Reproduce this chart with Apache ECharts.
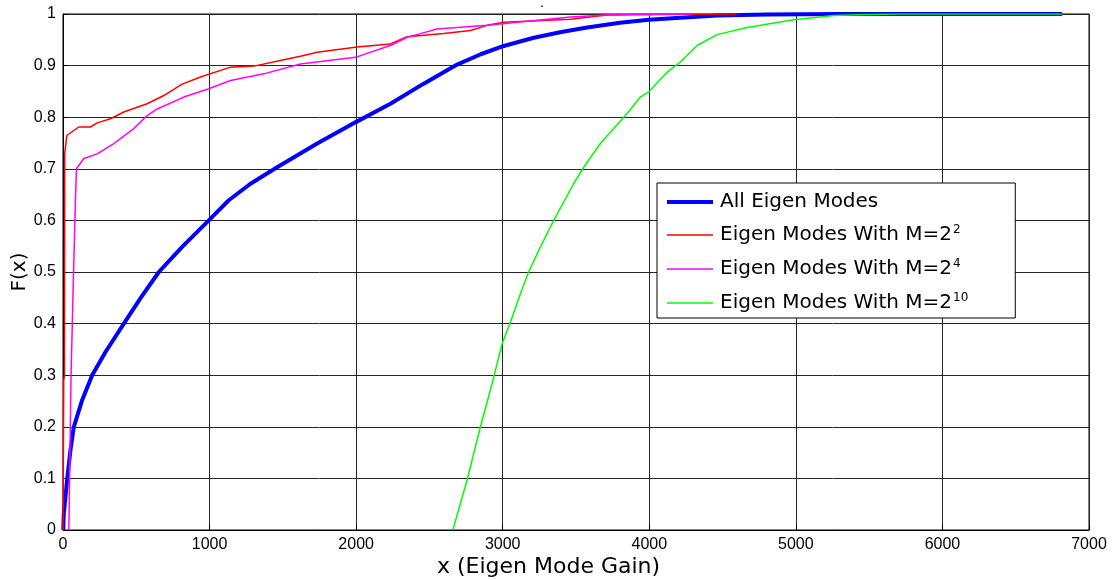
<!DOCTYPE html>
<html>
<head>
<meta charset="utf-8">
<script src="https://cdn.jsdelivr.net/npm/echarts@6/dist/echarts.min.js"></script>
<style>
  html, body { margin: 0; padding: 0; background: #fff; }
  #chart { width: 1113px; height: 580px; }
</style>
</head>
<body>
<div id="chart"></div>
<script>
// Empirical CDFs of eigen-mode gain
var allModesX = [2, 5, 29, 51, 74, 131, 199, 290, 415, 530, 654, 818, 995, 1131, 1279, 1461, 1734, 1995, 2234, 2461, 2689, 2850, 3007, 3212, 3400, 3576, 3800, 3996, 4462, 4803, 5300, 6816];
var allModesF = [0, 0.03, 0.10, 0.155, 0.20, 0.252, 0.30, 0.345, 0.40, 0.45, 0.50, 0.55, 0.60, 0.639, 0.671, 0.703, 0.749, 0.79, 0.826, 0.865, 0.902, 0.922, 0.938, 0.954, 0.965, 0.974, 0.983, 0.989, 0.997, 0.999, 1, 1];

var m4X = [0, 5, 10, 12, 24, 28, 108, 188, 233, 324, 415, 574, 688, 813, 938, 1143, 1302, 1484, 1620, 1734, 2007, 2234, 2348, 2598, 2780, 2894, 3007, 3462, 3712, 3940, 4600];
var m4F = [0, 0.29, 0.30, 0.73, 0.76, 0.765, 0.781, 0.781, 0.789, 0.797, 0.81, 0.826, 0.842, 0.864, 0.878, 0.897, 0.899, 0.91, 0.918, 0.926, 0.936, 0.942, 0.956, 0.962, 0.968, 0.978, 0.984, 0.990, 0.998, 0.999, 1];

var m16X = [40, 45, 55, 72, 85, 92, 142, 233, 347, 483, 574, 643, 824, 995, 1143, 1370, 1620, 1995, 2234, 2348, 2439, 2553, 2894, 3462, 3712, 4300];
var m16F = [0, 0.10, 0.30, 0.50, 0.64, 0.70, 0.72, 0.729, 0.749, 0.778, 0.803, 0.816, 0.839, 0.855, 0.871, 0.884, 0.903, 0.916, 0.939, 0.955, 0.962, 0.971, 0.978, 0.994, 0.998, 1];

var m1024X = [2660, 2757, 2848, 2928, 2996, 3053, 3121, 3177, 3246, 3348, 3484, 3553, 3666, 3849, 3939, 3996, 4121, 4212, 4326, 4462, 4667, 4985, 5258, 5486, 5700, 6816];
var m1024F = [0, 0.097, 0.2, 0.284, 0.361, 0.403, 0.458, 0.50, 0.542, 0.60, 0.671, 0.703, 0.749, 0.807, 0.839, 0.849, 0.887, 0.907, 0.939, 0.96, 0.974, 0.989, 0.997, 0.999, 1, 1];

var seriesNames = ['All Eigen Modes', 'Eigen Modes With M=2^2', 'Eigen Modes With M=2^4', 'Eigen Modes With M=2^10'];
var seriesColors = ['#0000ff', '#ff0000', '#ff00ff', '#00ff00'];
var seriesWidths = [4, 1.5, 1.5, 1.5];
var xTicks = [0, 1000, 2000, 3000, 4000, 5000, 6000, 7000];

function zip(xs, ys) {
  return xs.map(function (x, i) { return [x, ys[i]]; });
}

var FONT = '"Liberation Sans", Arial, sans-serif';
var WIDE = '"DejaVu Sans", sans-serif';

// "M=2^10" -> base text plus a superscript token
function legendLabel(name) {
  var parts = name.split('^');
  if (parts.length === 1) return '{t|' + name + '}';
  return '{t|' + parts[0] + '}{s|' + parts[1] + '}';
}

// flat bar icon whose thickness follows the series line width
function lineIcon(w) {
  return 'path://M0,0H46V' + w + 'H0Z';
}

var chart = echarts.init(document.getElementById('chart'), null, { renderer: 'canvas' });

var seriesData = [zip(allModesX, allModesF), zip(m4X, m4F), zip(m16X, m16F), zip(m1024X, m1024F)];

chart.setOption({
  animation: false,
  backgroundColor: '#fff',
  title: {
    text: '.',
    left: 535,
    top: -9,
    textStyle: { fontFamily: FONT, fontSize: 14, fontWeight: 'normal', color: '#000' }
  },
  grid: {
    left: 63, top: 14, right: 24, bottom: 50,
    containLabel: false,
    outerBoundsMode: 'none',
    show: true, borderColor: '#000', borderWidth: 1, backgroundColor: '#fff'
  },
  legend: {
    orient: 'vertical',
    left: 657,
    top: 183,
    padding: [9, 47, 4, 10],
    itemWidth: 46,
    itemHeight: 14,
    itemGap: 12,
    borderColor: '#000',
    borderWidth: 1,
    borderRadius: 0,
    backgroundColor: '#fff',
    data: seriesNames.map(function (n, i) {
      return { name: n, icon: lineIcon(seriesWidths[i]), itemStyle: { color: seriesColors[i] } };
    }),
    formatter: legendLabel,
    textStyle: {
      fontFamily: WIDE,
      color: '#000',
      padding: [0, 0, 0, 2],
      rich: {
        t: { fontFamily: WIDE, fontSize: 20, color: '#000', lineHeight: 20 },
        s: { fontFamily: WIDE, fontSize: 12, color: '#000', lineHeight: 10, padding: [0, 0, 10, 1] }
      }
    }
  },
  xAxis: {
    type: 'value',
    min: 0, max: 7000, interval: 1000,
    name: 'x (Eigen Mode Gain)',
    nameLocation: 'middle',
    nameGap: 26,
    nameMoveOverlap: false,
    nameTextStyle: { fontFamily: WIDE, fontSize: 22, color: '#000', padding: [0, 55, 0, 0] },
    axisLine: { lineStyle: { color: '#000', width: 1 } },
    axisTick: { inside: true, length: 5, lineStyle: { color: '#000' } },
    axisLabel: {
      fontFamily: FONT, fontSize: 16, color: '#000', margin: 7,
      formatter: function (v) { return xTicks.indexOf(v) >= 0 ? String(v) : ''; }
    },
    splitLine: { show: true, lineStyle: { color: '#262626', width: 1 } }
  },
  yAxis: {
    type: 'value',
    min: 0, max: 1, interval: 0.1,
    name: 'F(x)',
    nameLocation: 'middle',
    nameGap: 33,
    nameMoveOverlap: false,
    nameTextStyle: { fontFamily: WIDE, fontSize: 20, color: '#000' },
    axisLine: { lineStyle: { color: '#000', width: 1 } },
    axisTick: { inside: true, length: 5, lineStyle: { color: '#000' } },
    axisLabel: {
      fontFamily: FONT, fontSize: 16, color: '#000', margin: 7,
      formatter: function (v) { return String(Math.round(v * 10) / 10); }
    },
    splitLine: { show: true, lineStyle: { color: '#262626', width: 1 } }
  },
  series: seriesNames.map(function (n, i) {
    return {
      name: n,
      type: 'line',
      data: seriesData[i],
      symbol: 'none',
      lineStyle: { color: seriesColors[i], width: seriesWidths[i] },
      itemStyle: { color: seriesColors[i] },
      z: 2 + i
    };
  })
});
</script>
</body>
</html>
